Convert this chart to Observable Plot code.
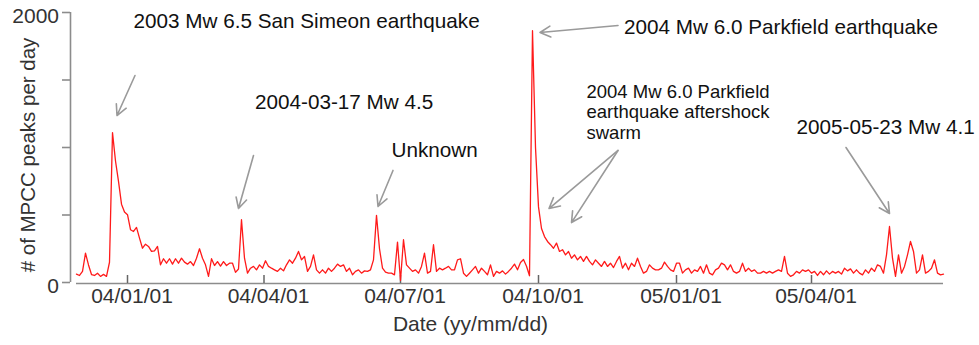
<!DOCTYPE html>
<html>
<head>
<meta charset="utf-8">
<script src="https://cdn.jsdelivr.net/npm/d3@7"></script>
<script src="https://cdn.jsdelivr.net/npm/@observablehq/plot@0.6"></script>
<style>
  html, body { margin: 0; padding: 0; background: #fff; }
  svg { display: block; }
</style>
</head>
<body>
<script>
// ---- data ----
const startDate = "2003-11-28";   // first sample
const stepDays = 2;               // one sample every two days
const peaksPerDay = [
  62, 52, 82, 217, 130, 59, 52, 69, 45, 60,
  45, 150, 1110, 900, 749, 580, 522, 502, 391, 378,
  408, 329, 254, 284, 267, 230, 235, 267, 131, 176,
  143, 176, 136, 176, 143, 180, 151, 136, 155, 126,
  180, 250, 180, 131, 45, 176, 126, 155, 121, 155,
  126, 143, 143, 75, 100, 465, 180, 69, 106, 119,
  94, 131, 106, 161, 119, 106, 94, 82, 106, 86,
  131, 168, 143, 180, 230, 168, 193, 82, 119, 205,
  94, 69, 94, 69, 106, 82, 106, 136, 119, 131,
  82, 106, 57, 82, 94, 69, 86, 82, 94, 168,
  497, 250, 106, 77, 69, 69, 57, 299, 15, 317,
  131, 106, 82, 94, 69, 119, 217, 69, 82, 280,
  82, 106, 94, 106, 119, 94, 94, 168, 176, 69,
  45, 69, 94, 119, 69, 106, 82, 57, 131, 45,
  82, 69, 86, 62, 82, 106, 136, 94, 148, 170,
  120, 50, 1865, 1000, 560, 400, 340, 304, 280, 254,
  292, 230, 243, 205, 230, 180, 205, 168, 193, 156,
  193, 156, 131, 168, 143, 119, 156, 119, 143, 111,
  156, 193, 106, 143, 94, 143, 119, 180, 119, 69,
  82, 131, 106, 94, 94, 106, 151, 119, 94, 82,
  143, 143, 69, 94, 106, 69, 94, 82, 119, 69,
  131, 69, 57, 94, 106, 143, 131, 94, 131, 82,
  69, 82, 143, 82, 106, 82, 94, 69, 69, 82,
  69, 82, 69, 82, 94, 82, 193, 69, 45, 57,
  82, 69, 94, 82, 94, 69, 82, 52, 82, 57,
  86, 62, 82, 69, 82, 62, 106, 86, 101, 69,
  94, 69, 57, 94, 69, 106, 82, 131, 119, 69,
  205, 415, 180, 45, 205, 69, 119, 205, 304, 230,
  69, 94, 205, 69, 82, 106, 168, 69, 57, 62
];

const xTickDates = ["2004-01-01", "2004-04-01", "2004-07-01", "2004-10-01", "2005-01-01", "2005-04-01"];
const yTicks = [0, 500, 1000, 1500, 2000];
const yTickLabels = [0, 2000];
const xTitle = "Date (yy/mm/dd)";
const yTitle = "# of MPCC peaks per day";

const annoLabels = [
  "2003 Mw 6.5 San Simeon earthquake",
  "2004-03-17 Mw 4.5",
  "Unknown",
  "2004 Mw 6.0 Parkfield earthquake",
  "2005-05-23 Mw 4.1"
];
const annoDates = ["2004-01-05", "2004-03-26", "2004-06-25", "2004-11-27", "2005-03-22"];
const annoValues = [1933, 1333, 978, 1889, 1148];

const swarmLabel = "2004 Mw 6.0 Parkfield\nearthquake aftershock\nswarm";
const swarmDate = "2004-11-02";
const swarmValue = 1267;

const arrowFromDates = ["2004-01-06", "2004-03-25", "2004-06-26", "2004-11-23", "2004-11-23", "2004-11-23", "2005-04-24"];
const arrowFromValues = [1533, 941, 830, 1904, 978, 978, 1000];
const arrowToDates = ["2003-12-25", "2004-03-15", "2004-06-16", "2004-10-02", "2004-10-08", "2004-10-23", "2005-05-23"];
const arrowToValues = [1237, 548, 563, 1852, 548, 444, 511];

// ---- tables built from the arrays ----
const DAY = 864e5;
const parse = d3.utcParse("%Y-%m-%d");
const t0 = parse(startDate);
const series = peaksPerDay.map((v, i) => ({date: new Date(+t0 + i * stepDays * DAY), value: v}));
const tEnd = series[series.length - 1].date;
const xTicks = xTickDates.map(parse);
const annos = annoLabels.map((label, i) => ({label, date: parse(annoDates[i]), value: annoValues[i]}));
const swarm = [{label: swarmLabel, date: parse(swarmDate), value: swarmValue}];
const arrows = arrowFromDates.map((d, i) => ({
  x1: parse(d), y1: arrowFromValues[i], x2: parse(arrowToDates[i]), y2: arrowToValues[i]
}));

const axisGray = "#8c8c8c";
const labelColor = "#333";
const font = "'Liberation Sans', Arial, Helvetica, sans-serif";

const chart = Plot.plot({
  width: 979,
  height: 345,
  marginLeft: 76,
  marginRight: 36,
  marginTop: 12,
  marginBottom: 63,
  style: {fontFamily: font, background: "#fff", overflow: "visible"},
  x: {type: "utc", domain: [t0, tEnd], axis: null},
  y: {domain: [0, 2000], axis: null},
  marks: [
    // axis lines
    Plot.ruleY([0], {stroke: axisGray, strokeWidth: 1.6, dy: 1}),
    Plot.ruleX([t0], {y1: 0, y2: 2000, dx: -6, stroke: axisGray, strokeWidth: 1.6}),
    // y ticks (outward) and labels
    Plot.axisY({ticks: yTicks, tickSize: 8, dx: -6, tickFormat: () => "", stroke: axisGray, strokeWidth: 1.6}),
    Plot.text(yTickLabels, {y: d => d, text: d => String(d), frameAnchor: "left", dx: -17.5, dy: 4,
      textAnchor: "end", fontSize: 21, fill: labelColor}),
    // x ticks (inward) and labels
    Plot.tickX(xTicks, {x: d => d, insetTop: 262, dy: 1, stroke: "#666", strokeWidth: 1.5}),
    Plot.text(xTicks, {x: d => d, text: d3.utcFormat("%y/%m/%d"), frameAnchor: "bottom", dy: 20, dx: 4.5,
      textAnchor: "middle", fontSize: 21, fill: labelColor}),
    // axis titles
    Plot.text([xTitle], {text: d => d, frameAnchor: "bottom", dx: -39.5, dy: 48, textAnchor: "middle",
      fontSize: 21, fill: labelColor}),
    Plot.text([yTitle], {text: d => d, frameAnchor: "left", rotate: -90, dx: -48, dy: 7.5, textAnchor: "middle",
      fontSize: 20.5, fill: labelColor}),
    // data
    Plot.line(series, {x: "date", y: "value", stroke: "#ff1a1a", strokeWidth: 1.3}),
    // annotations
    Plot.arrow(arrows, {x1: "x1", y1: "y1", x2: "x2", y2: "y2", stroke: "#9a9a9a", strokeWidth: 1.6,
      headLength: 11, headAngle: 55}),
    Plot.text(annos, {x: "date", y: "value", text: "label", textAnchor: "start", fontSize: 20.7, fill: "#111"}),
    Plot.text(swarm, {x: "date", y: "value", text: "label", textAnchor: "start", fontSize: 18.5,
      lineHeight: 1.11, fill: "#111"})
  ]
});
document.body.appendChild(chart);
</script>
</body>
</html>
